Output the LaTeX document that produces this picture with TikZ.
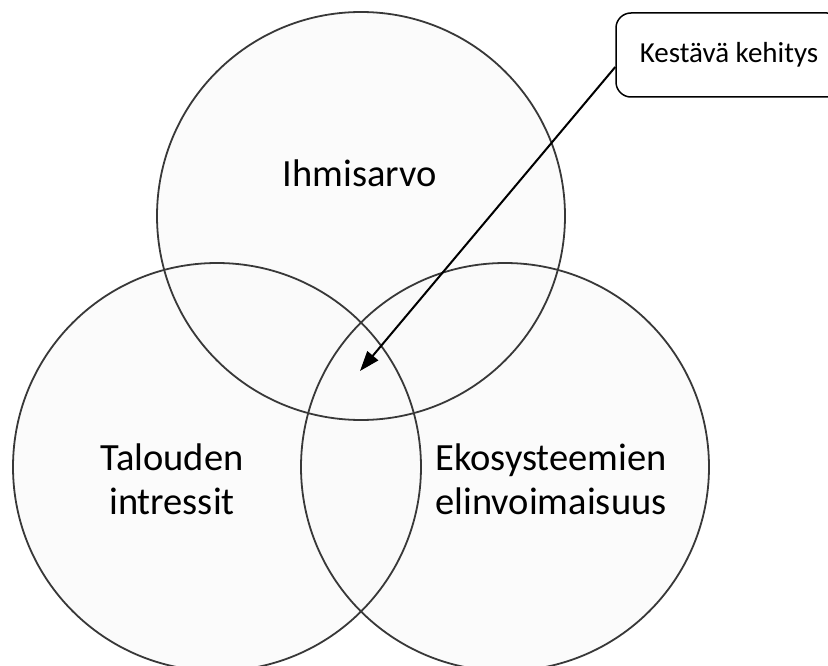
\documentclass[tikz,border=0pt]{standalone}
\usepackage{fontspec}
\setmainfont{Carlito}
\usetikzlibrary{arrows.meta}
\pgfdeclareradialshading{softdisc}{\pgfpoint{0bp}{0bp}}{color(0bp)=(black!2);color(36bp)=(black!2);color(46bp)=(black!5);color(50bp)=(black!20)}
\tikzset{
  disc/.style={circle, minimum size=408pt, inner sep=0pt, shading=softdisc, fill opacity=0.75},
  ring/.style={draw=black!78, line width=1.8pt},
  bigtext/.style={font=\fontsize{38.5}{45}\selectfont, anchor=base, inner sep=0pt},
  callout/.style={draw=black, line width=1.5pt, rounded corners=15pt, minimum width=226pt, minimum height=84pt, inner sep=0pt, font=\fontsize{29}{35}\selectfont},
  pointer/.style={line width=2pt, -{Triangle[length=20pt,width=14pt]}}
}
\begin{document}
\begin{tikzpicture}[x=1pt,y=-1pt]
\useasboundingbox (0,0) rectangle (828,666);
\clip (0,0) rectangle (828,666);
\fill[white] (0,0) rectangle (828,666);
% discs
\node[disc] (top) at (361,216) {};
\node[disc] (left) at (217,467) {};
\node[disc] (right) at (505,467) {};
\foreach \n in {top,left,right}
  \draw[ring] (\n.center) circle[radius=204pt];
% labels
\node[bigtext] (ihm) at (360,187) {Ihmisarvo};
\node[bigtext] (tal1) at (172,470) {Talouden};
\node[bigtext] (tal2) at (172,514) {intressit};
\node[bigtext] (eko1) at (551,470) {Ekosysteemien};
\node[bigtext] (eko2) at (551,514) {elinvoimaisuus};
% callout
\node[callout] (kk) at (729,55) {Kestävä kehitys};
\coordinate (core) at (360,371);
\draw[pointer] ([yshift=-12pt]kk.west) -- (core);
\end{tikzpicture}
\end{document}
